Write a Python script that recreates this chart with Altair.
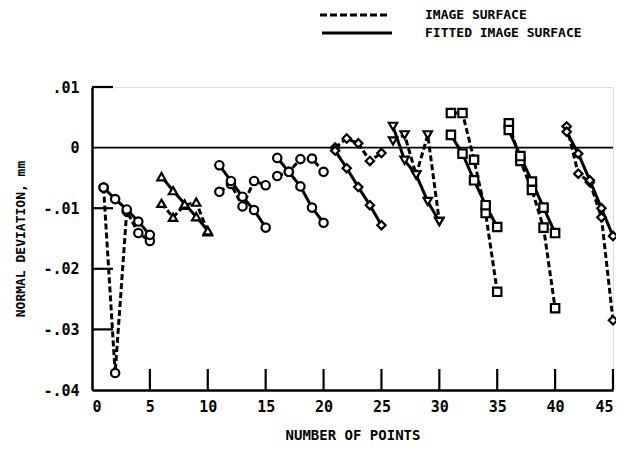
import altair as alt
import pandas as pd

# ---- data ----
points = list(range(1, 46))
image_surface = [
    -0.0066, -0.0372, -0.0105, -0.0141, -0.0154,
    -0.0092, -0.0115, -0.0095, -0.0090, -0.0139,
    -0.0073, -0.0060, -0.0097, -0.0055, -0.0062,
    -0.0047, -0.0040, -0.0019, -0.0018, -0.0040,
    0.0000, 0.0015, 0.0007, -0.0022, -0.0009,
    0.0011, 0.0021, -0.0045, 0.0021, -0.0122,
    0.0057, 0.0057, -0.0020, -0.0108, -0.0238,
    0.0040, -0.0022, -0.0070, -0.0132, -0.0265,
    0.0035, -0.0043, -0.0057, -0.0115, -0.0285,
]
fitted_surface = [
    -0.0066, -0.0085, -0.0102, -0.0122, -0.0144,
    -0.0048, -0.0071, -0.0093, -0.0114, -0.0137,
    -0.0029, -0.0055, -0.0081, -0.0103, -0.0132,
    -0.0017, -0.0040, -0.0064, -0.0099, -0.0124,
    -0.0005, -0.0034, -0.0065, -0.0095, -0.0128,
    0.0035, -0.0021, -0.0045, -0.0089, -0.0122,
    0.0021, -0.0010, -0.0054, -0.0095, -0.0131,
    0.0029, -0.0014, -0.0056, -0.0099, -0.0141,
    0.0026, -0.0010, -0.0054, -0.0100, -0.0146,
]
group_shapes = ["circle", "triangle-up", "circle", "circle", "diamond",
                "triangle-down", "square", "square", "diamond"]
series_names = ["IMAGE SURFACE", "FITTED IMAGE SURFACE"]
x_ticks = [5, 10, 15, 20, 25, 30, 35, 40, 45]
y_ticks = [0.01, -0.01, -0.02, -0.03]

rows = []
for i, n in enumerate(points):
    g = i // 5
    rows.append({"n": n, "v": image_surface[i], "series": series_names[0],
                 "group": g, "shape": group_shapes[g]})
    rows.append({"n": n, "v": fitted_surface[i], "series": series_names[1],
                 "group": g, "shape": group_shapes[g]})
df = pd.DataFrame(rows)

W, H = 521, 303
FONT = "DejaVu Sans Mono"

xs = alt.Scale(domain=[0, 45], nice=False, zero=False)
ys = alt.Scale(domain=[-0.04, 0.01], nice=False, zero=False)

label_expr = ("datum.value == 0 ? '0' : (datum.value > 0 ? '.01' : "
              "'-.0' + format(-datum.value * 100, '.0f'))")

base = alt.Chart(df)

lines = base.mark_line(color="black", strokeWidth=3).encode(
    x=alt.X("n:Q", scale=xs,
            axis=alt.Axis(values=[0] + x_ticks, title="NUMBER OF POINTS",
                          ticks=False, tickSize=0, grid=False, labelPadding=9,
                          domainColor="black", domainWidth=2.5,
                          labelFont=FONT, labelFontSize=15, labelColor="black",
                          labelFontWeight="bold",
                          titleFont=FONT, titleFontSize=14, titleFontWeight="bold",
                          titleColor="black", titlePadding=14)),
    y=alt.Y("v:Q", scale=ys,
            axis=alt.Axis(values=[0.01, 0, -0.01, -0.02, -0.03, -0.04],
                          labelExpr=label_expr, title="NORMAL DEVIATION, mm",
                          ticks=False, tickSize=0, grid=False, labelPadding=13,
                          domainColor="black", domainWidth=2.5,
                          labelFont=FONT, labelFontSize=15, labelColor="black",
                          labelFontWeight="bold",
                          titleFont=FONT, titleFontSize=13, titleFontWeight="bold",
                          titleColor="black", titlePadding=15)),
    strokeDash=alt.StrokeDash("series:N",
                              scale=alt.Scale(domain=series_names, range=[[6, 3], [1, 0]]),
                              legend=None),
    detail=alt.Detail("group:N"),
)

pts = base.mark_point(filled=True, fill="white", stroke="black", strokeWidth=2.2,
                      size=70, opacity=1).encode(
    x=alt.X("n:Q", scale=xs),
    y=alt.Y("v:Q", scale=ys),
    shape=alt.Shape("shape:N", scale=None),
)

zero_line = alt.Chart(pd.DataFrame({"y": [0.0]})).mark_rule(
    color="black", strokeWidth=1.8).encode(y=alt.Y("y:Q", scale=ys))

xt = alt.Chart(pd.DataFrame({"t": x_ticks})).mark_rule(
    color="black", strokeWidth=2.2).encode(
    x=alt.X("t:Q", scale=xs), y=alt.value(H), y2=alt.value(H - 21))

yt = alt.Chart(pd.DataFrame({"t": y_ticks})).mark_rule(
    color="black", strokeWidth=2.2).encode(
    y=alt.Y("t:Q", scale=ys), x=alt.value(0), x2=alt.value(21))

one = pd.DataFrame({"a": [0]})
leg_dash = alt.Chart(one).mark_rule(color="black", strokeWidth=3, strokeDash=[7, 3]).encode(
    x=alt.value(228), x2=alt.value(298), y=alt.value(-72))
leg_solid = alt.Chart(one).mark_rule(color="black", strokeWidth=3).encode(
    x=alt.value(230), x2=alt.value(300), y=alt.value(-54))
leg_t1 = alt.Chart(one).mark_text(align="left", baseline="middle", font=FONT,
                                  fontSize=13, fontWeight="bold", color="black").encode(
    x=alt.value(333), y=alt.value(-72), text=alt.value(series_names[0]))
leg_t2 = alt.Chart(one).mark_text(align="left", baseline="middle", font=FONT,
                                  fontSize=13, fontWeight="bold", color="black").encode(
    x=alt.value(333), y=alt.value(-54), text=alt.value(series_names[1]))

chart = alt.layer(zero_line, xt, yt, lines, pts, leg_dash, leg_solid, leg_t1, leg_t2).properties(
    width=W, height=H,
    autosize=alt.AutoSizeParams(type="none"),
    padding={"left": 84, "top": 79, "right": 3, "bottom": 56},
).configure_view(stroke=None).configure(background="white")

chart.save("out.html", embed_options={"renderer": "svg", "actions": False})
